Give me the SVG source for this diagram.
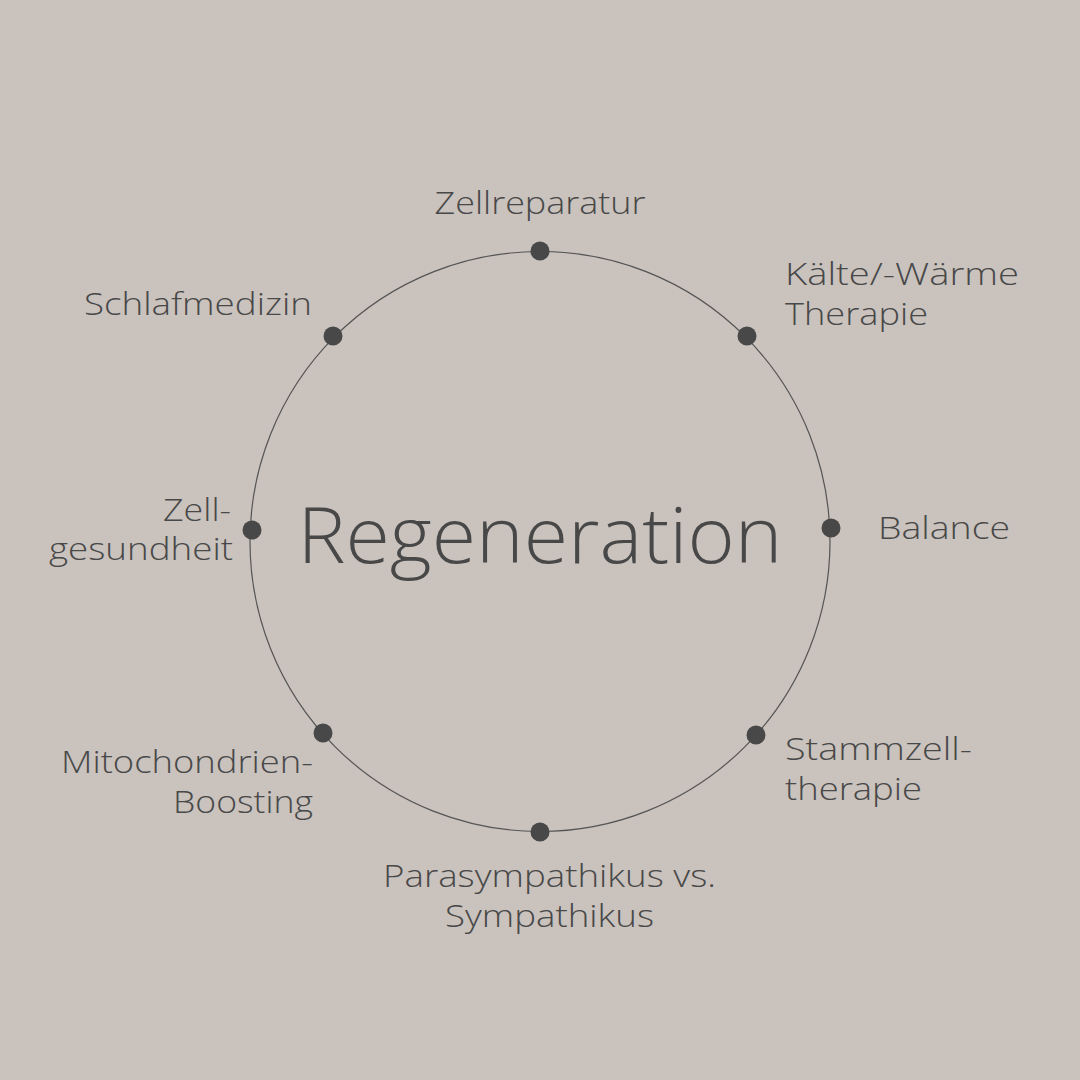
<svg xmlns="http://www.w3.org/2000/svg" width="1080" height="1080" viewBox="0 0 1080 1080">
<style>
.lbl{font-family:"Open Sans","Noto Sans",sans-serif;font-weight:300;font-size:32px;fill:#484848}
.title{font-family:"Open Sans","Noto Sans",sans-serif;font-weight:300;font-size:78px;fill:#484848}
.dot{fill:#484848}
</style>
<rect width="1080" height="1080" fill="#c9c2bd"/>
<g id="connectors">
<circle cx="540" cy="541.5" r="290" fill="none" stroke="#555" stroke-width="1.2"/>
</g>
<g id="center"><text class="title" x="540" y="563" text-anchor="middle" textLength="485" lengthAdjust="spacingAndGlyphs">Regeneration</text></g>
<g id="n-zellreparatur"><circle class="dot" cx="540" cy="251" r="9.5"/><text class="lbl" x="540" y="214" text-anchor="middle" textLength="211" lengthAdjust="spacingAndGlyphs">Zellreparatur</text></g>
<g id="n-kaelte"><circle class="dot" cx="747" cy="336" r="9.5"/><text class="lbl" x="785" y="285" textLength="234" lengthAdjust="spacingAndGlyphs">Kälte/-Wärme</text><text class="lbl" x="785" y="325" textLength="143" lengthAdjust="spacingAndGlyphs">Therapie</text></g>
<g id="n-balance"><circle class="dot" cx="831" cy="528" r="9.5"/><text class="lbl" x="878" y="539" textLength="132" lengthAdjust="spacingAndGlyphs">Balance</text></g>
<g id="n-stammzell"><circle class="dot" cx="756" cy="735" r="9.5"/><text class="lbl" x="785" y="760" textLength="187" lengthAdjust="spacingAndGlyphs">Stammzell-</text><text class="lbl" x="785" y="800" textLength="137" lengthAdjust="spacingAndGlyphs">therapie</text></g>
<g id="n-parasympathikus"><circle class="dot" cx="540" cy="832" r="9.5"/><text class="lbl" x="549.5" y="887" text-anchor="middle" textLength="333" lengthAdjust="spacingAndGlyphs">Parasympathikus vs.</text><text class="lbl" x="549.5" y="927" text-anchor="middle" textLength="209" lengthAdjust="spacingAndGlyphs">Sympathikus</text></g>
<g id="n-mitochondrien"><circle class="dot" cx="323" cy="733" r="9.5"/><text class="lbl" x="313" y="773" text-anchor="end" textLength="252" lengthAdjust="spacingAndGlyphs">Mitochondrien-</text><text class="lbl" x="313" y="813" text-anchor="end" textLength="140" lengthAdjust="spacingAndGlyphs">Boosting</text></g>
<g id="n-zellgesundheit"><circle class="dot" cx="252" cy="530" r="9.5"/><text class="lbl" x="231" y="521" text-anchor="end" textLength="68" lengthAdjust="spacingAndGlyphs">Zell-</text><text class="lbl" x="233" y="560" text-anchor="end" textLength="184" lengthAdjust="spacingAndGlyphs">gesundheit</text></g>
<g id="n-schlafmedizin"><circle class="dot" cx="333" cy="336" r="9.5"/><text class="lbl" x="312" y="315" text-anchor="end" textLength="228" lengthAdjust="spacingAndGlyphs">Schlafmedizin</text></g>
</svg>
